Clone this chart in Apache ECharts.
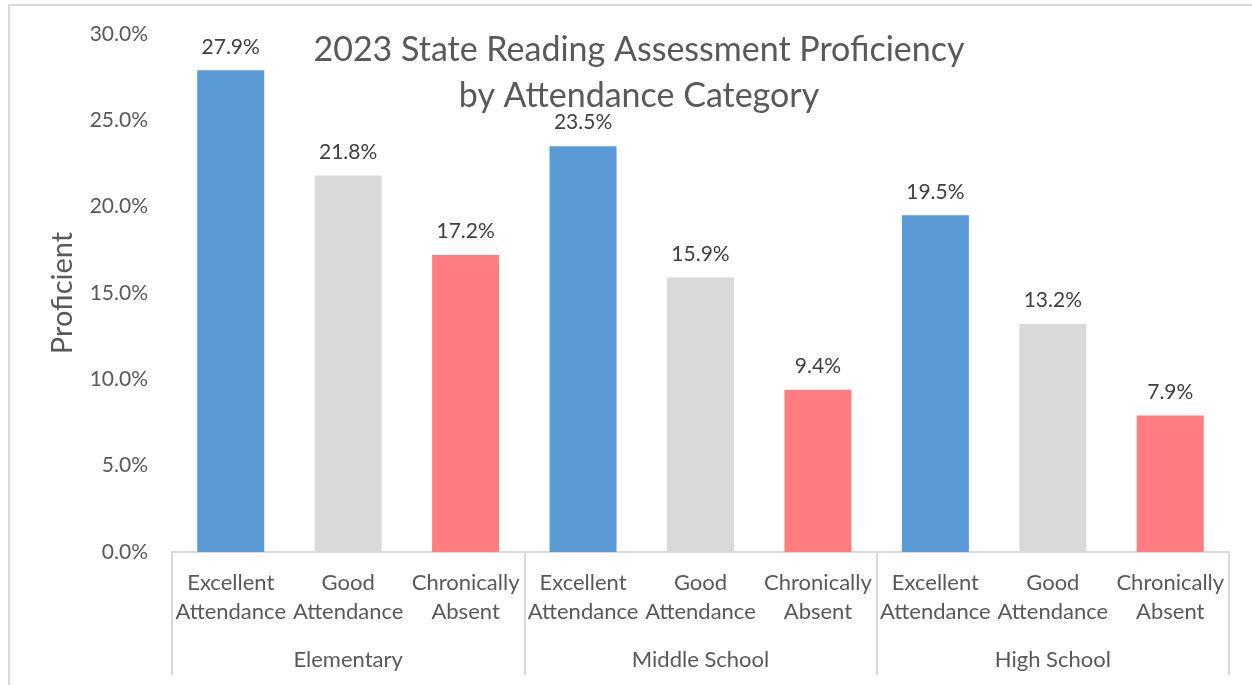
<!DOCTYPE html>
<html>
<head>
<meta charset="utf-8">
<script src="https://cdn.jsdelivr.net/npm/echarts@6/dist/echarts.min.js"></script>
<style>
  html, body { margin: 0; padding: 0; background: #fff; overflow: hidden; }
  #frame { position: absolute; left: 8px; top: 4px; width: 1300px; height: 720px; border: 2px solid #D9D9D9; box-sizing: border-box; }
  #main { position: absolute; left: 0; top: 0; width: 1252px; height: 685px; }
</style>
</head>
<body>
<div id="frame"></div>
<div id="main"></div>
<script>
// 数据
var groups = ['Elementary', 'Middle School', 'High School'];
var attendance = ['Excellent\nAttendance', 'Good\nAttendance', 'Chronically\nAbsent'];
var proficient = [27.9, 21.8, 17.2, 23.5, 15.9, 9.4, 19.5, 13.2, 7.9];
var barColors = ['#5B9BD5', '#D9D9D9', '#FF7C80'];

function initChart(){
	var option = createOption();
	var myChart = echarts.init(document.getElementById('main'));
	myChart.setOption(option);
}

function createOption(){
	var cats = [];
	var data = [];
	for (var g = 0; g < groups.length; g++) {
		for (var a = 0; a < attendance.length; a++) {
			var i = g * attendance.length + a;
			cats.push(attendance[a]);
			data.push({ value: proficient[i], itemStyle: { color: barColors[a] } });
		}
	}
	var font = 'Lato, "Open Sans", sans-serif';
	option = {
		animation: false,
		textStyle: { fontFamily: font },
		title: {
			text: '2023 State Reading Assessment Proficiency\nby Attendance Category',
			left: 634,
			textAlign: 'center',
			top: 22,
			textStyle: { fontFamily: font, fontSize: 34, fontWeight: 'normal', color: '#595959', lineHeight: 46, align: 'center' }
		},
		grid: { left: 172, right: 23, top: 34, bottom: 133 },
		xAxis: [
			{
				type: 'category',
				data: cats,
				axisLine: { lineStyle: { color: '#D9D9D9', width: 2 } },
				axisTick: { show: false },
				axisLabel: { interval: 0, color: '#595959', fontSize: 22, lineHeight: 29, margin: 16, fontFamily: font }
			},
			{
				type: 'category',
				position: 'bottom',
				data: groups,
				axisLine: { show: false },
				axisTick: { show: true, length: 123, lineStyle: { color: '#D9D9D9', width: 2 } },
				axisLabel: { interval: 0, color: '#595959', fontSize: 22, margin: 97, fontFamily: font }
			}
		],
		yAxis: {
			type: 'value',
			min: 0,
			max: 30,
			interval: 5,
			name: 'Proficient',
			nameLocation: 'middle',
			nameRotate: 90,
			nameGap: 95,
			nameTextStyle: { fontSize: 29, color: '#595959', fontFamily: font },
			axisLine: { show: false },
			axisTick: { show: false },
			splitLine: { show: false },
			axisLabel: {
				color: '#595959', fontSize: 21, margin: 24, fontFamily: font,
				formatter: function (v) { return v.toFixed(1) + '%'; }
			}
		},
		series: [
			{
				name: 'Proficient',
				type: 'bar',
				xAxisIndex: 0,
				barWidth: 67,
				data: data,
				label: {
					show: true,
					position: 'top',
					distance: 13,
					color: '#404040',
					fontSize: 21,
					fontFamily: font,
					formatter: function (p) { return p.value.toFixed(1) + '%'; }
				}
			}
		]
	};
	return option;
}

initChart();
</script>
</body>
</html>
